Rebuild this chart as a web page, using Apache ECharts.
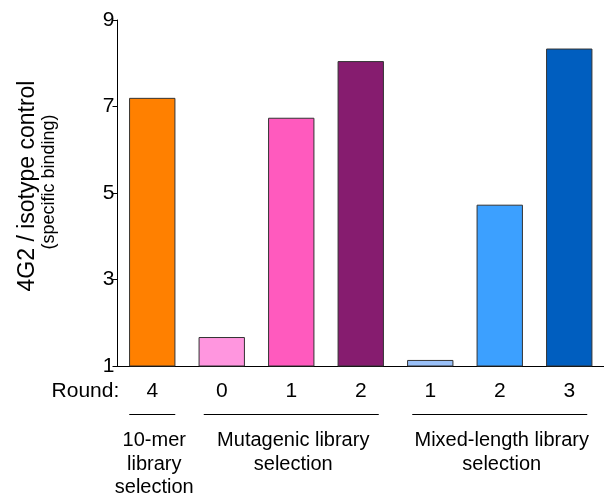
<!DOCTYPE html>
<html>
<head>
<meta charset="utf-8">
<script src="https://cdn.jsdelivr.net/npm/echarts@6/dist/echarts.min.js"></script>
<style>
html,body{margin:0;padding:0;background:#fff;}
#chart{width:604px;height:498px;}
</style>
</head>
<body>
<div id="chart"></div>
<script>
// ---- data ----
var categories = ['10-mer R4', 'Mutagenic R0', 'Mutagenic R1', 'Mutagenic R2', 'Mixed R1', 'Mixed R2', 'Mixed R3'];
var roundLabels = ['4', '0', '1', '2', '1', '2', '3'];
var values = [7.2, 1.67, 6.74, 8.05, 1.14, 4.73, 8.34];
var barColors = ['#FF8000', '#FF96DF', '#FF5ABE', '#861C6F', '#99C0F8', '#3CA0FF', '#005EBF'];
var groups = [
  { name: '10-mer\nlibrary\nselection', first: 0, last: 0 },
  { name: 'Mutagenic library\nselection', first: 1, last: 3 },
  { name: 'Mixed-length library\nselection', first: 4, last: 6 }
];
var yTicks = { min: 1, max: 9, interval: 2 };
var yTitle = '4G2 / isotype control';
var ySubtitle = '(specific binding)';
var roundPrefix = 'Round:';

var FONT = '"Liberation Sans", Arial, sans-serif';
var chart = echarts.init(document.getElementById('chart'), null, { renderer: 'canvas' });

var option = {
  animation: false,
  backgroundColor: '#ffffff',
  textStyle: { fontFamily: FONT },
  grid: { left: 117.5, top: 20, width: 490, bottom: 132, containLabel: false },
  xAxis: {
    type: 'category',
    data: categories,
    axisLine: { show: true, lineStyle: { color: '#000', width: 1 } },
    axisTick: { show: false },
    axisLabel: {
      color: '#000', fontSize: 21, fontFamily: FONT, margin: 15,
      formatter: function (v, i) { return roundLabels[i]; }
    }
  },
  yAxis: {
    type: 'value',
    min: yTicks.min, max: yTicks.max, interval: yTicks.interval,
    axisLine: { show: true, lineStyle: { color: '#000', width: 1 } },
    axisTick: { show: true, inside: false, length: 5, lineStyle: { color: '#000', width: 1 } },
    axisLabel: { color: '#000', fontSize: 21, fontFamily: FONT, margin: 3 },
    splitLine: { show: false },
    name: '{a|' + yTitle + '}\n{b|' + ySubtitle + '}',
    nameLocation: 'middle',
    nameRotate: 90,
    nameGap: 58,
    nameTextStyle: {
      color: '#000', fontFamily: FONT, align: 'center',
      padding: [0, 0, 0, 14],
      rich: {
        a: { fontSize: 23, lineHeight: 24, fontFamily: FONT, color: '#000' },
        b: { fontSize: 18, lineHeight: 20, fontFamily: FONT, color: '#000', padding: [0, 0, 0, 8] }
      }
    }
  },
  series: [{
    type: 'bar',
    data: values.map(function (v, i) {
      return { value: v, itemStyle: { color: barColors[i] } };
    }),
    barCategoryGap: '33.3%',
    itemStyle: { borderColor: '#333', borderWidth: 1 }
  }]
};
chart.setOption(option);

// group annotations positioned from the category axis
var graphics = [];
var axisY = chart.convertToPixel({ yAxisIndex: 0 }, yTicks.min);
var firstX = chart.convertToPixel({ xAxisIndex: 0 }, 0);
var lineY = Math.round(axisY + 48) + 0.5;
graphics.push({
  type: 'text',
  style: {
    text: roundPrefix, x: firstX - 33, y: axisY + 25,
    align: 'right', verticalAlign: 'middle',
    font: '21px ' + FONT, fill: '#000'
  }
});
groups.forEach(function (g) {
  var x1 = chart.convertToPixel({ xAxisIndex: 0 }, g.first);
  var x2 = chart.convertToPixel({ xAxisIndex: 0 }, g.last);
  var pad = g.first === g.last ? 23 : 18;
  graphics.push({
    type: 'line',
    shape: { x1: x1 - pad, y1: lineY, x2: x2 + pad, y2: lineY },
    style: { stroke: '#000', lineWidth: 1 }
  });
  graphics.push({
    type: 'text',
    style: {
      text: g.name, x: (x1 + x2) / 2 + 2, y: axisY + 63,
      align: 'center', verticalAlign: 'top',
      font: '20px ' + FONT, lineHeight: 23.5, fill: '#000'
    }
  });
});
chart.setOption({ graphic: graphics });
</script>
</body>
</html>
